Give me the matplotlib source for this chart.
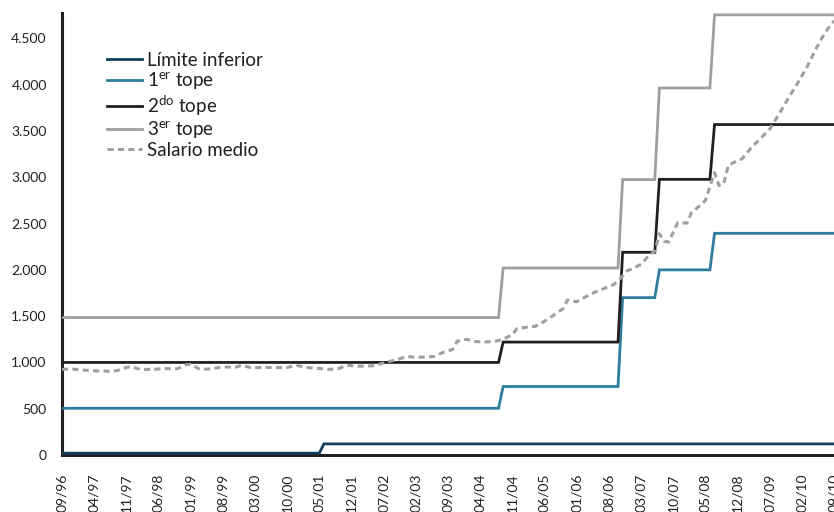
import matplotlib
matplotlib.use("Agg")
import matplotlib.pyplot as plt
from matplotlib.ticker import FuncFormatter, FixedLocator

# ---- axis categories: monthly, 09/96 .. 09/10 ----
meses = [f"{(8 + i) % 12 + 1:02d}/{(96 + (8 + i) // 12) % 100:02d}" for i in range(169)]

# ---- step series: start month of each level and the level ----
lim_inf_inicio = ["09/96", "06/01"]
lim_inf_valor = [20, 120]

tope_inicio = ["09/96", "09/04", "11/06", "07/07", "07/08"]
tope1_valor = [505, 740, 1700, 2000, 2395]
tope2_valor = [1000, 1220, 2190, 2978, 3570]
tope3_valor = [1485, 2020, 2975, 3965, 4755]

# ---- salario medio (readings) ----
sal_mes = ["09/96", "11/96", "01/97", "04/97", "07/97", "09/97", "11/97", "12/97",
           "02/98", "05/98", "07/98", "10/98", "12/98", "01/99", "03/99", "05/99",
           "08/99", "11/99", "12/99", "02/00", "05/00", "08/00", "10/00", "12/00",
           "02/01", "05/01", "07/01", "09/01", "11/01", "01/02", "03/02", "05/02",
           "07/02", "09/02", "10/02", "12/02", "02/03", "04/03", "06/03", "08/03",
           "10/03", "11/03", "01/04", "03/04", "05/04", "07/04", "09/04", "11/04",
           "12/04", "02/05", "04/05", "06/05", "08/05", "10/05", "11/05", "01/06",
           "03/06", "05/06", "07/06", "09/06", "10/06", "12/06", "01/07", "03/07",
           "05/07", "06/07", "07/07", "08/07", "09/07", "11/07", "01/08", "02/08",
           "04/08", "05/08", "07/08", "08/08", "09/08", "10/08", "12/08", "01/09",
           "03/09", "05/09", "07/09", "09/09", "11/09", "01/10", "03/10", "05/10",
           "07/10", "09/10"]
sal_valor = [925, 930, 920, 910, 905, 912, 945, 955,
             925, 925, 935, 930, 975, 980, 925, 930,
             950, 950, 970, 945, 945, 945, 945, 970,
             945, 935, 925, 930, 970, 960, 960, 965,
             995, 1020, 1030, 1065, 1055, 1058, 1065, 1110,
             1140, 1230, 1250, 1225, 1222, 1225, 1250, 1300,
             1365, 1380, 1390, 1445, 1510, 1580, 1675, 1655,
             1710, 1760, 1800, 1840, 1880, 1990, 2010, 2060,
             2170, 2200, 2390, 2310, 2300, 2510, 2505, 2620,
             2700, 2750, 3050, 2910, 2930, 3130, 3180, 3200,
             3320, 3420, 3520, 3680, 3850, 4010, 4180, 4380,
             4560, 4690]

etiquetas = ["Límite inferior", r"1$^{\mathrm{er}}$ tope", r"2$^{\mathrm{do}}$ tope",
             r"3$^{\mathrm{er}}$ tope", "Salario medio"]
colores = ["#0f3f5c", "#2f7d9c", "#231f20", "#9e9fa1", "#9e9fa1"]


def escalonar(inicios, valores):
    pos = [meses.index(m) for m in inicios]
    serie = []
    for i in range(len(meses)):
        k = max(j for j, p in enumerate(pos) if p <= i)
        serie.append(valores[k])
    return serie


plt.rcParams['font.family'] = ['Lato', 'DejaVu Sans']
plt.rcParams['mathtext.fontset'] = 'custom'
plt.rcParams['mathtext.rm'] = 'Lato'

fig = plt.figure(figsize=(8.34, 5.12), dpi=100)
ax = fig.add_axes([62 / 834, 1 - 455 / 512, 772 / 834, 442 / 512])

x = list(range(len(meses)))
series = [escalonar(lim_inf_inicio, lim_inf_valor),
          escalonar(tope_inicio, tope1_valor),
          escalonar(tope_inicio, tope2_valor),
          escalonar(tope_inicio, tope3_valor)]
lw = 2.0
for s, lab, c in zip(series, etiquetas[:4], colores[:4]):
    ax.plot(x, s, color=c, lw=lw, label=lab, solid_joinstyle='miter')

sal_x = [meses.index(m) for m in sal_mes]
ax.plot(sal_x, sal_valor, color=colores[4], lw=2.2, dashes=(2.0, 1.4),
        label=etiquetas[4])

ax.set_xlim(0, len(meses) - 1)
ax.set_ylim(0, 4775)

ax.yaxis.set_major_locator(FixedLocator(range(0, 4501, 500)))
ax.yaxis.set_major_formatter(FuncFormatter(lambda v, p: f"{int(v):,}".replace(",", ".")))
ax.set_xticks(x[::7])
ax.set_xticklabels(meses[::7], rotation=90, va='top', ha='center')

for sp in ['top', 'right']:
    ax.spines[sp].set_visible(False)
for sp in ['left', 'bottom']:
    ax.spines[sp].set_linewidth(2.2)
    ax.spines[sp].set_color('#231f20')
    ax.spines[sp].set_zorder(1)
ax.tick_params(axis='y', length=0, pad=11, labelsize=10, labelcolor='#231f20')
ax.tick_params(axis='x', length=0, pad=13.5, labelsize=10, labelcolor='#231f20')

leg = ax.legend(loc='upper left', bbox_to_anchor=(0.058, 0.912), frameon=False,
                fontsize=13.5, handlelength=1.9, handletextpad=0.25,
                labelspacing=0.06, borderpad=0, borderaxespad=0)
for t in leg.get_texts():
    t.set_color('#231f20')

fig.savefig("out.png", dpi=100)
